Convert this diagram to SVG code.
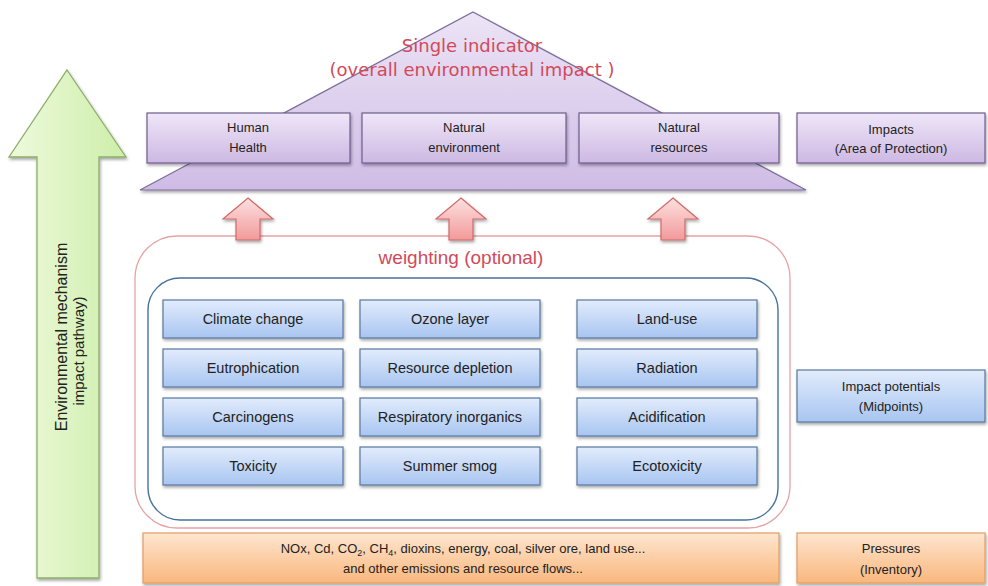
<svg xmlns="http://www.w3.org/2000/svg" width="988" height="586" viewBox="0 0 988 586">
<defs>
<linearGradient id="gPur" x1="0" y1="0" x2="0" y2="1"><stop offset="0" stop-color="#efe6f8"/><stop offset="1" stop-color="#cdb8e3"/></linearGradient>
<linearGradient id="gPyr" x1="0" y1="0" x2="0" y2="1"><stop offset="0" stop-color="#ece4f6"/><stop offset="1" stop-color="#cfbce5"/></linearGradient>
<linearGradient id="gBlue" x1="0" y1="0" x2="0" y2="1"><stop offset="0" stop-color="#e2ecfc"/><stop offset="1" stop-color="#a8c5f1"/></linearGradient>
<linearGradient id="gOr" x1="0" y1="0" x2="0" y2="1"><stop offset="0" stop-color="#fee6d0"/><stop offset="1" stop-color="#f9b77d"/></linearGradient>
<linearGradient id="gGreen" x1="0" y1="0" x2="1" y2="0"><stop offset="0" stop-color="#eefadc"/><stop offset="1" stop-color="#cdeeaa"/></linearGradient>
<linearGradient id="gPink" x1="0" y1="0" x2="0" y2="1"><stop offset="0" stop-color="#fde0e0"/><stop offset="1" stop-color="#f29a9a"/></linearGradient>
<filter id="sh" x="-10%" y="-20%" width="130%" height="160%"><feDropShadow dx="1" dy="2" stdDeviation="1.5" flood-color="#000" flood-opacity="0.35"/></filter>
</defs>
<style>
text{font-family:"Liberation Sans","DejaVu Sans",sans-serif;fill:#222;text-anchor:middle}
.pur{fill:url(#gPur);stroke:#6e5d8e;stroke-width:1.2;filter:url(#sh)}
.blu{fill:url(#gBlue);stroke:#58789f;stroke-width:1.2;filter:url(#sh)}
.org{fill:url(#gOr);stroke:#e39d62;stroke-width:1.2;filter:url(#sh)}
.t13{font-size:13px}
.t14{font-size:14.5px}
.red{fill:#d24a5a}
.big{font-family:"DejaVu Sans","Liberation Sans",sans-serif;font-size:18px}
.pk{fill:url(#gPink);stroke:#d06a6a;stroke-width:1.2;filter:url(#sh)}
</style>
<rect width="988" height="586" fill="#fff"/>

<g id="pathway-arrow">
<path d="M67,70 L126,157 L99,157 L99,578 L37,578 L37,157 L9,157 Z" fill="url(#gGreen)" stroke="#8cae6a" stroke-width="1.3" filter="url(#sh)"/>
<text transform="translate(67,337) rotate(-90)" style="font-size:16px">Environmental  mechanism</text>
<text transform="translate(84,351) rotate(-90)" style="font-size:15px">impact pathway)</text>
</g>

<g id="single-indicator">
<path d="M473,12 L806,190 L140,190 Z" fill="url(#gPyr)" stroke="#7c6c9a" stroke-width="1.2" filter="url(#sh)"/>
<text class="red big" x="472" y="52">Single indicator</text>
<text class="red big" x="472" y="76">(overall environmental impact )</text>
</g>

<g id="human-health">
<rect class="pur" x="147" y="113" width="203" height="50"/>
<text class="t13" x="248" y="132">Human</text>
<text class="t13" x="248" y="152">Health</text>
</g>
<g id="natural-environment">
<rect class="pur" x="362" y="113" width="204" height="50"/>
<text class="t13" x="464" y="132">Natural</text>
<text class="t13" x="464" y="152">environment</text>
</g>
<g id="natural-resources">
<rect class="pur" x="579" y="113" width="200" height="50"/>
<text class="t13" x="679" y="132">Natural</text>
<text class="t13" x="679" y="152">resources</text>
</g>
<g id="impacts">
<rect class="pur" x="797" y="113" width="188" height="50"/>
<text class="t13" x="891" y="134">Impacts</text>
<text class="t13" x="891" y="153">(Area of Protection)</text>
</g>

<g id="weighting">
<rect x="135" y="236" width="655" height="292" rx="42" fill="#fff" stroke="#e6a4a4" stroke-width="1.3"/>
<text class="red" x="461" y="264" style="font-size:19px">weighting (optional)</text>
</g>

<g id="midpoints-frame">
<rect x="148" y="278" width="630" height="242" rx="32" fill="#fff" stroke="#46729a" stroke-width="1.4"/>
</g>

<g id="climate-change"><rect class="blu" x="163" y="300" width="180" height="38"/><text class="t14" x="253" y="324">Climate change</text></g>
<g id="ozone-layer"><rect class="blu" x="360" y="300" width="180" height="38"/><text class="t14" x="450" y="324">Ozone layer</text></g>
<g id="land-use"><rect class="blu" x="577" y="300" width="180" height="38"/><text class="t14" x="667" y="324">Land-use</text></g>
<g id="eutrophication"><rect class="blu" x="163" y="349" width="180" height="38"/><text class="t14" x="253" y="373">Eutrophication</text></g>
<g id="resource-depletion"><rect class="blu" x="360" y="349" width="180" height="38"/><text class="t14" x="450" y="373">Resource depletion</text></g>
<g id="radiation"><rect class="blu" x="577" y="349" width="180" height="38"/><text class="t14" x="667" y="373">Radiation</text></g>
<g id="carcinogens"><rect class="blu" x="163" y="398" width="180" height="38"/><text class="t14" x="253" y="422">Carcinogens</text></g>
<g id="respiratory-inorganics"><rect class="blu" x="360" y="398" width="180" height="38"/><text class="t14" x="450" y="422">Respiratory inorganics</text></g>
<g id="acidification"><rect class="blu" x="577" y="398" width="180" height="38"/><text class="t14" x="667" y="422">Acidification</text></g>
<g id="toxicity"><rect class="blu" x="163" y="447" width="180" height="38"/><text class="t14" x="253" y="471">Toxicity</text></g>
<g id="summer-smog"><rect class="blu" x="360" y="447" width="180" height="38"/><text class="t14" x="450" y="471">Summer smog</text></g>
<g id="ecotoxicity"><rect class="blu" x="577" y="447" width="180" height="38"/><text class="t14" x="667" y="471">Ecotoxicity</text></g>

<g id="impact-potentials">
<rect class="blu" x="797" y="370" width="188" height="52"/>
<text class="t13" x="891" y="391">Impact potentials</text>
<text class="t13" x="891" y="411">(Midpoints)</text>
</g>

<g id="emissions">
<rect class="org" x="143" y="533" width="636" height="50"/>
<text class="t13" x="463" y="553">NOx, Cd, CO<tspan dy="3" font-size="9">2</tspan><tspan dy="-3">, CH</tspan><tspan dy="3" font-size="9">4</tspan><tspan dy="-3">, dioxins, energy, coal, silver ore, land use...</tspan></text>
<text class="t13" x="463" y="573">and other emissions and resource flows...</text>
</g>
<g id="pressures">
<rect class="org" x="797" y="533" width="188" height="50"/>
<text class="t13" x="891" y="553">Pressures</text>
<text class="t13" x="891" y="574">(Inventory)</text>
</g>

<g id="connectors">
<path class="pk" d="M248,198 L273,219 L260,219 L260,240 L236,240 L236,219 L223,219 Z"/>
<path class="pk" d="M461,198 L486,219 L473,219 L473,240 L449,240 L449,219 L436,219 Z"/>
<path class="pk" d="M673,198 L698,219 L685,219 L685,240 L661,240 L661,219 L648,219 Z"/>
</g>
</svg>
